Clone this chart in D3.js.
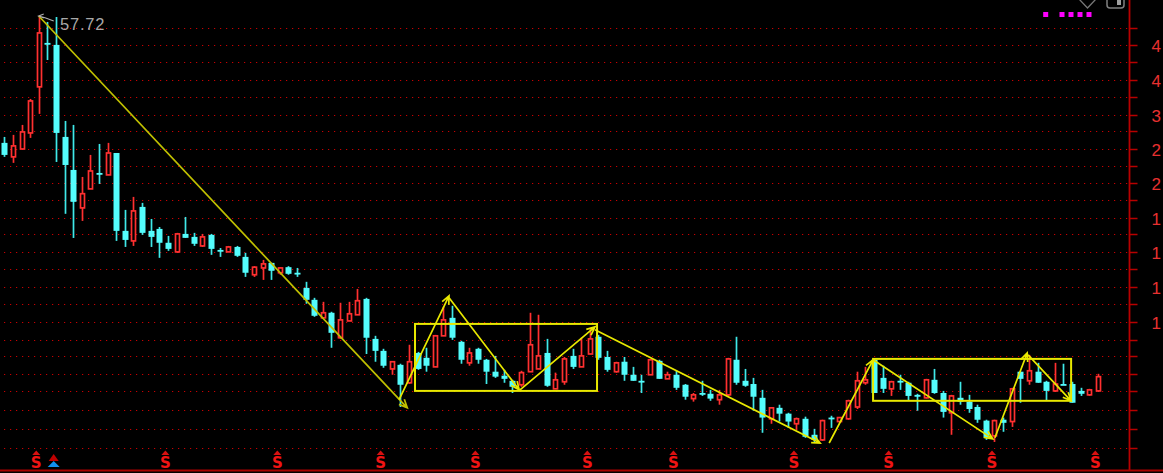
<!DOCTYPE html>
<html><head><meta charset="utf-8">
<script src="https://cdnjs.cloudflare.com/ajax/libs/d3/7.8.5/d3.min.js"></script>
<style>html,body{margin:0;padding:0;background:#000;overflow:hidden}svg{display:block}</style>
</head><body><svg id="c" width="1163" height="473"></svg>
<script>
const highs=[28.79,29.13,30.85,35.82,57.72,55.78,57.39,31.56,30.85,22.87,25.96,27.65,27.82,26.25,18.92,20.39,19.7,17.96,17.15,16.29,16.58,18.17,16.58,16.48,16.48,15.2,15.38,15.38,14.78,13.69,14.19,13.95,13.61,13.69,13.55,12.51,11.41,11.15,10.53,11.09,11.15,12.01,11.41,9.17,8.51,7.9,7.81,8.71,8.36,8.56,9.22,10.84,10.9,8.91,8.56,8.56,8.03,8.17,7.54,7.12,7.5,10.47,10.35,9.01,7.42,8.12,8.51,9.07,9.6,9.22,8.41,7.9,8.12,7.67,7.33,8.03,7.99,7.46,7.5,6.95,6.6,7.08,6.72,6.72,8.08,9.12,7.58,7.2,6.72,6.06,6.17,5.89,5.73,5.76,5.37,5.66,5.79,5.73,6.35,7.46,7.67,8.03,7.72,7.08,7.33,7.04,6.57,7.16,7.58,6.68,6.53,7.04,6.53,6.17,5.66,5.66,5.73,6.8,7.46,8.22,7.85,7.08,7.85,7.81,7.04,6.8,6.76,7.37];
const lows=[25.67,24.8,26.86,28.63,32.87,44.82,24.93,18.5,16.1,17.76,21.35,21.97,23.14,15.83,15.29,15.38,16.39,15.29,14.36,14.95,14.78,16.11,15.38,15.29,14.61,14.44,14.86,14.44,12.87,12.87,12.65,12.65,13.03,13.03,12.87,11.03,10.23,10.17,8.56,9.01,9.99,10.35,8.26,7.9,7.63,7.33,6.09,6.95,7.54,7.46,7.67,9.17,8.96,7.81,7.72,7.81,6.95,7.2,7.0,6.6,6.84,7.46,7.58,6.84,6.76,6.92,7.58,7.67,8.26,7.99,7.46,7.42,7.08,7.08,6.6,7.33,7.16,7.16,6.72,6.35,6.28,6.49,6.31,6.17,6.49,6.92,6.84,5.96,5.25,5.53,5.6,5.4,5.34,5.1,4.95,5.01,5.4,5.6,5.66,6.02,6.92,6.6,6.6,6.49,6.72,6.31,5.96,6.39,6.57,5.73,5.19,6.17,5.89,5.56,5.04,4.98,5.28,5.43,6.24,6.92,7.0,6.31,6.64,6.92,6.24,6.49,6.49,6.64];
const opens=[27.82,25.67,26.86,29.46,38.4,49.44,48.88,28.79,23.81,19.14,21.35,23.4,23.14,26.25,16.77,15.83,19.25,16.77,16.96,15.66,14.86,16.48,16.2,15.38,16.39,15.03,14.86,15.29,14.44,13.03,13.55,13.95,13.18,13.61,13.18,12.08,11.28,10.17,10.47,9.07,9.99,10.35,11.34,9.01,8.41,7.58,7.76,7.0,8.31,8.08,7.67,9.17,10.17,8.86,7.85,8.51,7.99,7.46,7.29,7.08,6.92,7.46,7.58,8.31,6.76,7.04,8.17,7.67,8.26,9.12,8.12,7.46,7.9,7.33,7.08,7.33,7.94,7.16,7.33,6.92,6.39,6.6,6.57,6.35,6.53,7.99,7.08,6.95,6.42,5.69,6.06,5.86,5.53,5.69,5.19,5.04,5.73,5.6,5.69,6.09,7.0,7.99,7.2,6.76,7.08,7.0,6.53,6.42,7.12,6.6,5.89,6.42,6.28,6.09,5.63,5.16,5.66,5.6,7.46,7.08,7.46,7.04,6.68,6.95,6.95,6.68,6.53,6.68];
const closes=[25.96,27.34,29.63,35.41,52.36,49.16,29.46,24.5,19.82,20.77,23.67,23.27,26.25,16.77,15.92,18.81,16.58,16.2,15.66,15.12,16.48,16.11,15.57,16.2,15.12,14.95,15.29,14.53,13.18,13.61,13.87,13.33,13.55,13.1,13.1,11.28,10.29,10.47,9.33,10.05,10.41,11.22,9.07,8.41,7.72,7.9,6.92,7.9,7.58,7.72,9.17,10.05,9.07,7.99,8.31,7.99,7.46,7.25,7.16,6.84,7.42,8.71,8.17,6.88,7.12,8.03,7.67,8.17,9.01,8.08,7.54,7.85,7.33,7.08,7.04,7.99,7.16,7.33,6.8,6.46,6.53,6.57,6.39,6.53,8.03,7.0,6.88,6.46,5.73,6.06,5.86,5.6,5.69,5.13,5.04,5.63,5.69,5.73,6.31,7.08,7.12,6.6,6.76,7.04,7.04,6.49,6.46,7.12,6.6,5.92,6.49,6.28,6.02,5.66,5.1,5.63,5.56,6.76,7.16,7.5,7.0,6.68,6.95,6.92,6.24,6.57,6.72,7.25];

const gridPrices=[53.89,48.85,44.3,39.95,36.3,32.7,29.8,26.86,24.35,22.1,20.04,18.07,16.48,14.86,13.48,12.15,11.03,9.93,8.96,8.17,7.37,6.68,5.99,5.37,4.81];
const axisLabels=["","4","","4","","3","","2","","2","","1","","1","","1","","1","","","","","","",""];

const trendFromIndex=[4,45.85,51.65,59.9,68.6,95.8,100.9,115.05,118.9];
const trendFromPrice=[57.72,6.35,11.41,6.72,9.49,4.95,7.99,5.1,8.22];
const trendToIndex=[46.8,51.65,59.8,68.6,94.75,100.9,114.8,118.8,123.9];
const trendToPrice=[6.06,11.54,6.72,9.65,4.95,7.99,5.07,8.31,6.31];
const boxFromIndex=[47.7,100.9], boxToIndex=[68.84,123.9];
const boxHigh=[9.82,8.03], boxLow=[6.68,6.31];

const signalIndex=[4,19,32,44,55,68,78,92,103,115,127];
const blueArrowIndex=[6];
const peakLabel="57.72";

const svg=d3.select("#c");
const x=d3.scaleLinear().domain([0,127]).range([4.3,1097.8]);
const y=d3.scaleLog().domain([57.72,4.81]).range([16,448]);
const RED="#ff3030",CYAN="#54fcfc",AX="#b80000",YEL="#e8e800";
const isUp=i=>closes[i]>=opens[i];

svg.append("rect").attr("width",1163).attr("height",473).attr("fill","#000");

// grid
svg.append("g").selectAll("line").data(gridPrices).join("line")
 .attr("x1",4).attr("x2",1128)
 .attr("y1",d=>Math.round(y(d))+.5).attr("y2",d=>Math.round(y(d))+.5)
 .attr("stroke","#c80000").attr("stroke-width",1.2).attr("stroke-dasharray","1.2 4.8");

// right axis
const axis=d3.axisRight(y).tickValues(gridPrices).tickSize(8)
 .tickFormat((d,i)=>axisLabels[i]);
const ag=svg.append("g").attr("transform","translate(1129.5,0)").call(axis);
ag.select(".domain").remove();
ag.selectAll(".tick line").attr("stroke",AX).attr("stroke-width",1.5);
ag.selectAll(".tick").attr("transform",d=>`translate(0,${Math.round(y(d))+.5})`);
ag.selectAll("text").attr("x",22).attr("fill","#e83030").attr("font-family","Liberation Sans").attr("font-size",17).attr("text-anchor","start").attr("dy","0.36em");
svg.append("line").attr("x1",1129.5).attr("x2",1129.5).attr("y1",0).attr("y2",470).attr("stroke",AX).attr("stroke-width",1.8);
svg.append("line").attr("x1",0).attr("x2",1163).attr("y1",470.5).attr("y2",470.5).attr("stroke","#a80000").attr("stroke-width",2);

// candles
const idx=d3.range(highs.length);
const cg=svg.append("g");
const px=i=>Math.round(x(i))+.5;
cg.selectAll("line").data(idx).join("line")
 .attr("x1",px).attr("x2",px)
 .attr("y1",i=>y(highs[i])).attr("y2",i=>y(lows[i]))
 .attr("stroke",i=>isUp(i)?RED:"#3fe8e8").attr("stroke-width",1.7);
cg.selectAll("rect").data(idx).join("rect")
 .attr("x",i=>px(i)-(isUp(i)?2:3))
 .attr("width",i=>isUp(i)?4:6)
 .attr("y",i=>y(Math.max(opens[i],closes[i])))
 .attr("height",i=>Math.max(1.8,y(Math.min(opens[i],closes[i]))-y(Math.max(opens[i],closes[i]))))
 .attr("fill",i=>isUp(i)?"#000":CYAN)
 .attr("stroke",i=>isUp(i)?RED:"none").attr("stroke-width",1.7);

// boxes
svg.append("g").selectAll("rect").data(boxHigh).join("rect")
 .attr("x",(d,i)=>x(boxFromIndex[i])).attr("width",(d,i)=>x(boxToIndex[i])-x(boxFromIndex[i]))
 .attr("y",d=>y(d)).attr("height",(d,i)=>y(boxLow[i])-y(d))
 .attr("fill","none").attr("stroke",YEL).attr("stroke-width",2);

// trend arrows
const tg=svg.append("g").attr("fill","none").attr("stroke-width",1.7);
trendToIndex.forEach((_,i)=>{
  const x0=x(trendFromIndex[i]),y0=y(trendFromPrice[i]),x1=x(trendToIndex[i]),y1=y(trendToPrice[i]);
  const a=Math.atan2(y1-y0,x1-x0),L=9,s=0.42;
  const path=d3.path();
  path.moveTo(x0,y0);path.lineTo(x1,y1);
  path.moveTo(x1-L*Math.cos(a-s),y1-L*Math.sin(a-s));path.lineTo(x1,y1);
  path.lineTo(x1-L*Math.cos(a+s),y1-L*Math.sin(a+s));
  tg.append("path").attr("d",path.toString()).attr("stroke",i===0?"#c0c000":YEL);
});

// peak label
const pkX=x(4),pkY=y(57.72);
svg.append("path").attr("d",`M${pkX+5},${pkY-2}L${pkX},${pkY}L${pkX+5},${pkY+2}M${pkX},${pkY}L${pkX+7},${pkY+2}L${pkX+15},${pkY+5}`)
 .attr("fill","none").attr("stroke","#b0b0b0").attr("stroke-width",1.2);
svg.append("text").attr("x",60).attr("y",30).text(peakLabel)
 .attr("fill","#a8a8a8").attr("font-family","Liberation Sans").attr("font-size",16.5).attr("letter-spacing",.8);

// signals
const sg=svg.append("g");
signalIndex.forEach(i=>{
  const c=x(i)-2.5;
  sg.append("path").attr("d",`M${c-4},455L${c},450.5L${c+4},455Z`).attr("fill","#d81010");
  sg.append("text").attr("x",c).attr("y",468).attr("text-anchor","middle").text("S")
    .attr("fill","#f01414").attr("font-family","DejaVu Sans").attr("font-weight","bold").attr("font-size",15);
});
blueArrowIndex.forEach(i=>{
  const c=x(i)-2.3;
  sg.append("path").attr("d",`M${c-5},461L${c},454L${c+5},461Z`).attr("fill","#c00000");
  sg.append("path").attr("d",`M${c-6},467L${c},461L${c+6},467Z`).attr("fill","#1090f0");
});

// top-right toolbar glyphs
const dotX=[1045.7,1062,1071,1080,1089];
svg.append("g").selectAll("rect").data(dotX).join("rect")
 .attr("x",d=>d-2.5).attr("y",12).attr("width",5).attr("height",5).attr("fill","#ff00ff");
svg.append("path").attr("d","M1079,-1L1087.5,8L1096,-1").attr("fill","none").attr("stroke","#777").attr("stroke-width",1.3);
svg.append("rect").attr("x",1107).attr("y",-6).attr("width",17).attr("height",14).attr("rx",3).attr("fill","none").attr("stroke","#808080").attr("stroke-width",1.5);
svg.append("rect").attr("x",1117).attr("y",0).attr("width",4).attr("height",5).attr("fill","#a0a0a0");
</script></body></html>
